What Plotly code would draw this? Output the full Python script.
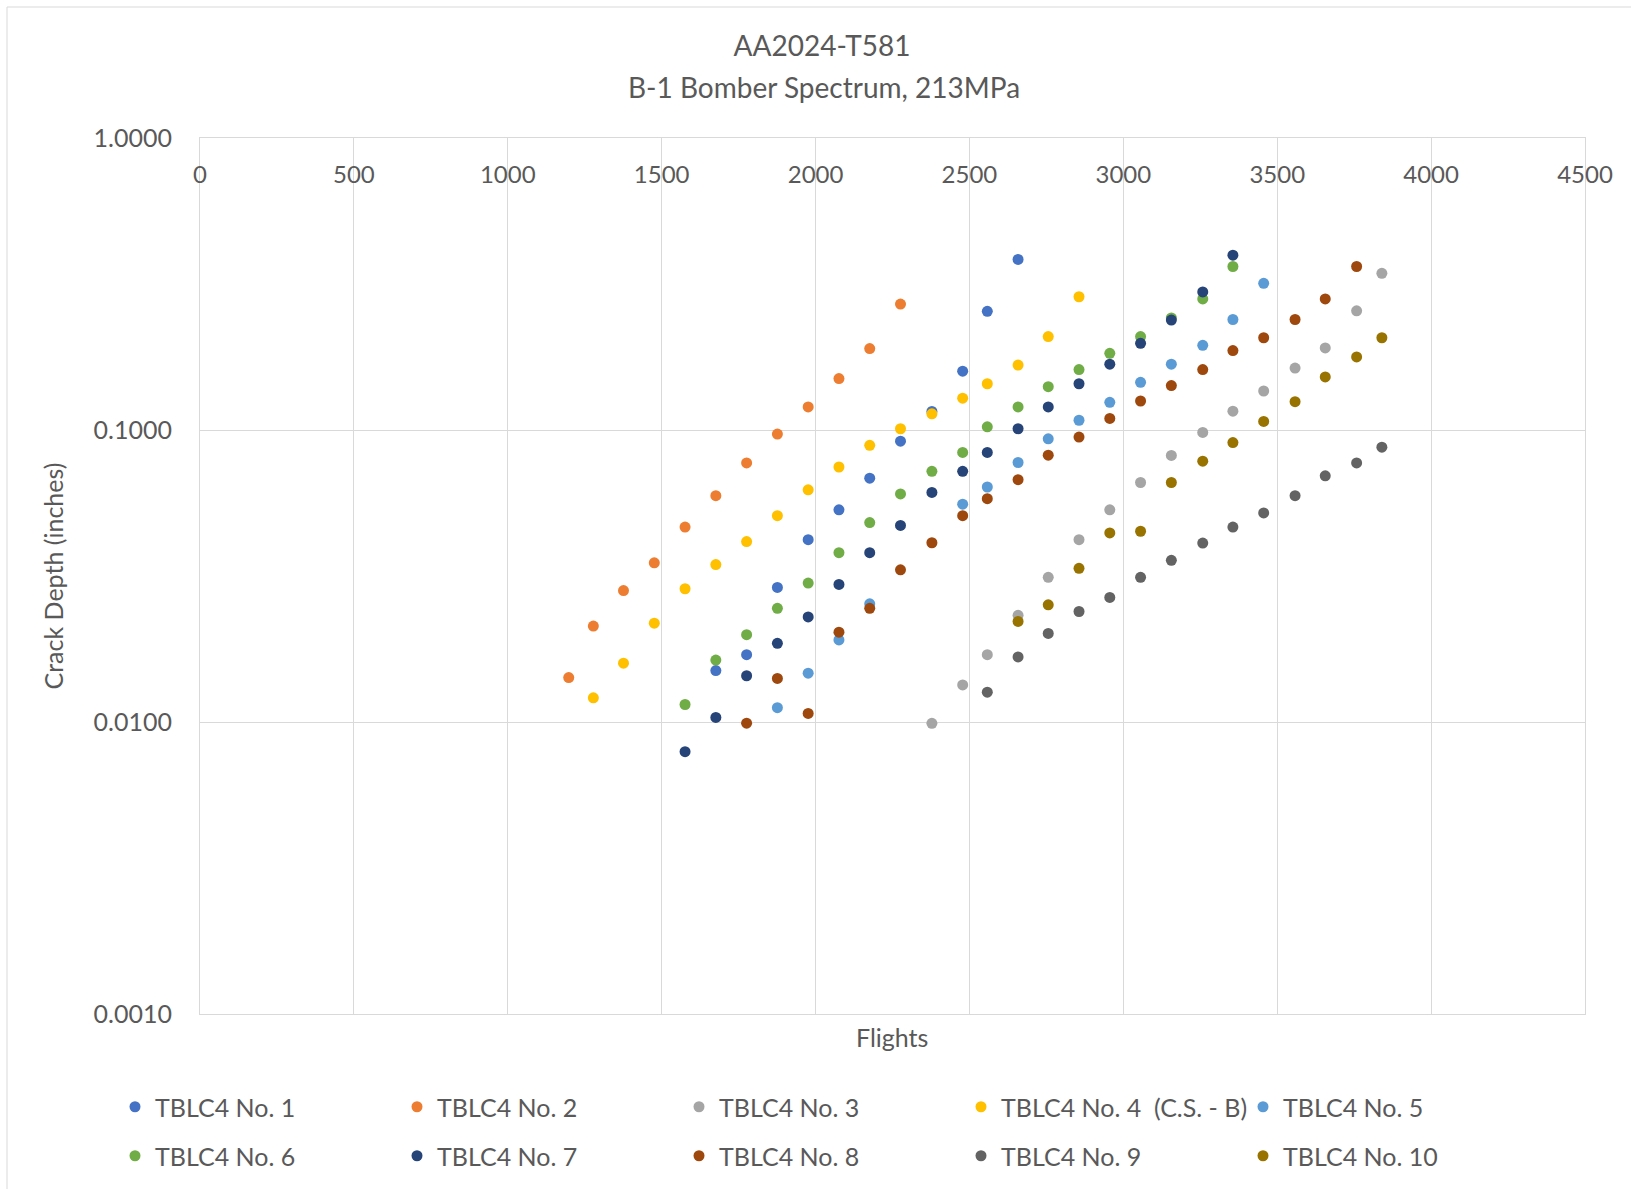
import plotly.graph_objects as go

# ---- data ----
names = ["TBLC4 No. 1", "TBLC4 No. 2", "TBLC4 No. 3", "TBLC4 No. 4\u00a0 (C.S. - B)", "TBLC4 No. 5",
         "TBLC4 No. 6", "TBLC4 No. 7", "TBLC4 No. 8", "TBLC4 No. 9", "TBLC4 No. 10"]
colors = ["#4472C4", "#ED7D31", "#A5A5A5", "#FFC000", "#5B9BD5",
          "#70AD47", "#264478", "#9E480E", "#636363", "#997300"]

x1 = [1676, 1776, 1876, 1976, 2076, 2176, 2276, 2378, 2478, 2558, 2658]
y1 = [0.0150, 0.0170, 0.0289, 0.0421, 0.0533, 0.0684, 0.0916, 0.1157, 0.159, 0.255, 0.384]

x2 = [1198, 1278, 1376, 1476, 1576, 1676, 1776, 1876, 1976, 2076, 2176, 2276]
y2 = [0.0142, 0.0213, 0.0282, 0.0351, 0.0465, 0.0596, 0.0771, 0.0968, 0.120, 0.150, 0.190, 0.270]

x3 = [2378, 2478, 2558, 2658, 2756, 2856, 2956, 3056, 3156, 3258, 3356, 3456, 3558, 3656, 3758, 3840]
y3 = [0.0099, 0.0134, 0.0170, 0.0232, 0.0313, 0.0421, 0.0533, 0.0661, 0.0818, 0.0981, 0.116, 0.136,
      0.163, 0.191, 0.256, 0.344]

x4 = [1278, 1376, 1476, 1576, 1676, 1776, 1876, 1976, 2076, 2176, 2276, 2378, 2478, 2558, 2658, 2756, 2856]
y4 = [0.0121, 0.0159, 0.0218, 0.0286, 0.0346, 0.0415, 0.0509, 0.0624, 0.0747, 0.0886, 0.101, 0.1136,
      0.1285, 0.144, 0.1668, 0.209, 0.286]

x5 = [1876, 1976, 2076, 2176, 2478, 2558, 2658, 2756, 2856, 2956, 3056, 3156, 3258, 3356, 3456]
y5 = [0.0112, 0.0147, 0.0191, 0.0254, 0.0557, 0.0638, 0.0774, 0.0933, 0.108, 0.1244, 0.1456, 0.168,
      0.195, 0.239, 0.318]

x6 = [1576, 1676, 1776, 1876, 1976, 2076, 2176, 2276, 2378, 2478, 2558, 2658, 2756, 2856, 2956, 3056,
      3156, 3258, 3356]
y6 = [0.01148, 0.0163, 0.0199, 0.0245, 0.0299, 0.0380, 0.0482, 0.0604, 0.0722, 0.0838, 0.1025, 0.120,
      0.1407, 0.161, 0.183, 0.209, 0.242, 0.281, 0.363]

x7 = [1576, 1676, 1776, 1876, 1976, 2076, 2176, 2276, 2378, 2478, 2558, 2658, 2756, 2856, 2956, 3056,
      3156, 3258, 3356]
y7 = [0.00791, 0.01037, 0.0144, 0.0186, 0.0229, 0.0296, 0.0380, 0.0471, 0.0611, 0.0722, 0.0838, 0.101,
      0.120, 0.144, 0.168, 0.198, 0.238, 0.297, 0.397]

x8 = [1776, 1876, 1976, 2076, 2176, 2276, 2378, 2478, 2558, 2658, 2756, 2856, 2956, 3056, 3156, 3258,
      3356, 3456, 3558, 3656, 3758]
y8 = [0.00991, 0.0141, 0.0107, 0.0203, 0.0245, 0.0332, 0.0411, 0.0509, 0.0582, 0.0676, 0.0820, 0.0946,
      0.1096, 0.1257, 0.142, 0.161, 0.187, 0.207, 0.239, 0.281, 0.363]

x9 = [2558, 2658, 2756, 2856, 2956, 3056, 3156, 3258, 3356, 3456, 3558, 3656, 3758, 3840]
y9 = [0.01265, 0.0167, 0.0201, 0.0239, 0.0267, 0.0313, 0.0358, 0.0410, 0.0465, 0.0520, 0.0596, 0.0697,
      0.0771, 0.0873]

x10 = [2658, 2756, 2856, 2956, 3056, 3156, 3258, 3356, 3456, 3558, 3656, 3758, 3840]
y10 = [0.0221, 0.0252, 0.0336, 0.0444, 0.0450, 0.0661, 0.0782, 0.0906, 0.107, 0.125, 0.152, 0.178, 0.207]

xs = [x1, x2, x3, x4, x5, x6, x7, x8, x9, x10]
ys = [y1, y2, y3, y4, y5, y6, y7, y8, y9, y10]

x_ticks = [0, 500, 1000, 1500, 2000, 2500, 3000, 3500, 4000, 4500]
y_ticks = [0.001, 0.01, 0.1, 1.0]

# ---- figure ----
W, H = 1631, 1189
L, R, T, B = 200, 46, 138, 175
PW, PH = W - L - R, H - T - B
FONT = "Lato, 'Open Sans', sans-serif"
TXT = "#595959"
GRID = "#D9D9D9"

fig = go.Figure()
for i in range(10):
    fig.add_trace(go.Scatter(
        x=xs[i], y=ys[i], mode="markers", name=names[i],
        marker=dict(color=colors[i], size=11, line=dict(width=0)),
        legend="legend" if i < 5 else "legend2",
    ))

def px_x(p):
    return (p - L) / PW

def px_y(p):
    return (H - B - p) / PH

legend_common = dict(
    orientation="h", xanchor="left", yanchor="middle",
    entrywidth=237, entrywidthmode="pixels",
    font=dict(family=FONT, size=25, color=TXT),
    bgcolor="rgba(0,0,0,0)", borderwidth=0, itemclick=False,
)

fig.update_layout(
    width=W, height=H,
    margin=dict(l=L, r=R, t=T, b=B, autoexpand=False),
    paper_bgcolor="white", plot_bgcolor="white",
    font=dict(family=FONT, color=TXT),
    title=dict(text="AA2024-T581", x=822 / W, xanchor="center", xref="container",
               y=1 - 46 / H, yanchor="middle", yref="container",
               font=dict(family=FONT, size=28, color=TXT)),
    xaxis=dict(range=[0, 4500], tickvals=x_ticks, side="top",
               ticklabelposition="inside", ticklabeloverflow="allow",
               ticklabelstandoff=30, ticks="",
               showgrid=True, gridcolor=GRID, gridwidth=1,
               showline=True, linecolor=GRID, linewidth=1, mirror=True,
               zeroline=False, tickfont=dict(family=FONT, size=24, color=TXT)),
    yaxis=dict(type="log", range=[-3, 0], tickvals=y_ticks, tickformat=".4f",
               ticks="", ticklabelstandoff=22,
               showgrid=True, gridcolor=GRID, gridwidth=1,
               showline=True, linecolor=GRID, linewidth=1, mirror=True,
               zeroline=False, tickfont=dict(family=FONT, size=25, color=TXT),
               title=dict(text="Crack Depth (inches)", standoff=22,
                          font=dict(family=FONT, size=25, color=TXT))),
    legend=dict(x=px_x(115), y=px_y(1107), **legend_common),
    legend2=dict(x=px_x(115), y=px_y(1156), **legend_common),
    annotations=[
        dict(text="B-1 Bomber Spectrum, 213MPa", xref="paper", yref="paper",
             x=px_x(824), y=px_y(87), xanchor="center", yanchor="middle",
             showarrow=False, font=dict(family=FONT, size=28, color=TXT)),
        dict(text="Flights", xref="paper", yref="paper",
             x=px_x(892), y=px_y(1037), xanchor="center", yanchor="middle",
             showarrow=False, font=dict(family=FONT, size=25, color=TXT)),
    ],
    shapes=[
        dict(type="line", xref="paper", yref="paper", x0=px_x(7), x1=px_x(W + 5),
             y0=px_y(7), y1=px_y(7), line=dict(color=GRID, width=1)),
        dict(type="line", xref="paper", yref="paper", x0=px_x(7), x1=px_x(7),
             y0=px_y(7), y1=px_y(H + 5), line=dict(color=GRID, width=1)),
    ],
    showlegend=True,
)

fig.write_html("out.html")
